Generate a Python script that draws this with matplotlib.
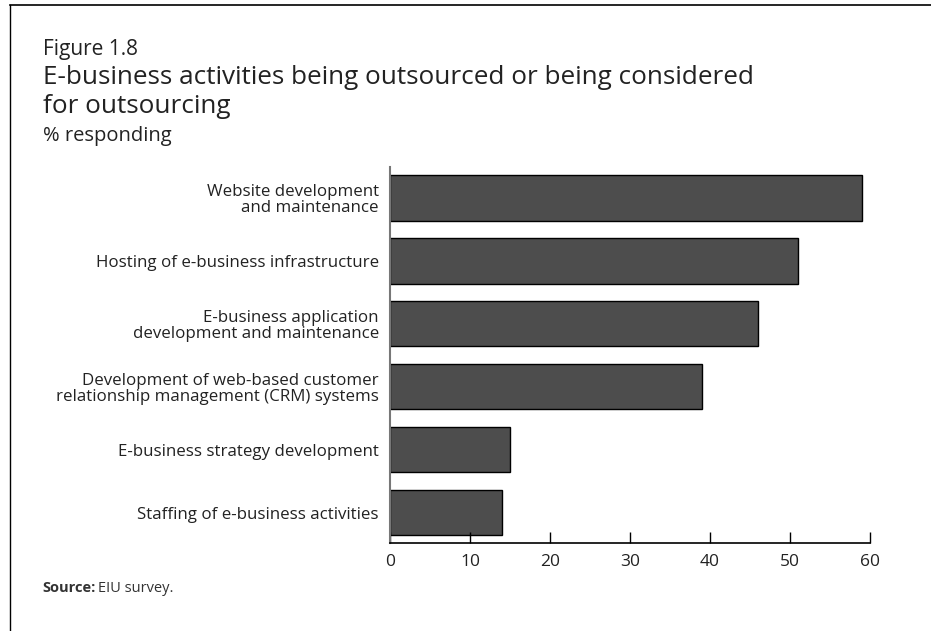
import matplotlib
matplotlib.use("Agg")
import matplotlib.pyplot as plt
from matplotlib.lines import Line2D

plt.rcParams['font.family'] = ['Open Sans', 'DejaVu Sans']

activities = [
    "Website development\nand maintenance",
    "Hosting of e-business infrastructure",
    "E-business application\ndevelopment and maintenance",
    "Development of web-based customer\nrelationship management (CRM) systems",
    "E-business strategy development",
    "Staffing of e-business activities",
]
responding = [59, 51, 46, 39, 15, 14]
xticks = [0, 10, 20, 30, 40, 50, 60]

W, H = 931, 631
fig = plt.figure(figsize=(W / 100, H / 100), dpi=100, facecolor='white')

# frame lines along the top and left edge of the page
fig.add_artist(Line2D([10 / W, 10 / W], [0, 1 - 5 / H], transform=fig.transFigure, color='black', lw=1))
fig.add_artist(Line2D([10 / W, 1], [1 - 5 / H, 1 - 5 / H], transform=fig.transFigure, color='black', lw=1.2))

ax = fig.add_axes([390 / W, 1 - 543 / H, 480 / W, 376 / H])

ypos = list(range(len(activities)))[::-1]
ax.barh(ypos, responding, height=0.72, color='#4d4d4d', edgecolor='black', linewidth=1)

ax.set_xlim(0, 60)
ax.set_ylim(-0.48, 5.49)
ax.set_xticks(xticks)
ax.set_xticklabels([str(t) for t in xticks], fontsize=12.5, color='#222222')
ax.set_yticks(ypos)
ax.set_yticklabels(activities, fontsize=12.2, color='#222222', linespacing=1.05)
ax.tick_params(axis='x', direction='in', length=8, width=1, color='black', pad=8)
ax.tick_params(axis='y', length=0, pad=8)

for side in ['top', 'right']:
    ax.spines[side].set_visible(False)
ax.spines['left'].set_color('#777777')
ax.spines['left'].set_linewidth(1.5)
ax.spines['bottom'].set_color('black')
ax.spines['bottom'].set_linewidth(1.2)

fig.text(43 / W, 1 - 55 / H, "Figure 1.8", fontsize=15, color='#222222', va='baseline')
fig.text(43 / W, 1 - 84 / H, "E-business activities being outsourced or being considered",
         fontsize=18.8, color='#222222', va='baseline')
fig.text(43 / W, 1 - 113 / H, "for outsourcing", fontsize=18.8, color='#222222', va='baseline')
fig.text(43 / W, 1 - 141 / H, "% responding", fontsize=14.5, color='#222222', va='baseline')

src = fig.text(42 / W, 1 - 592 / H, "Source:", fontsize=10.5, fontweight='bold', color='#333333', va='baseline')
fig.canvas.draw()
bb = src.get_window_extent()
fig.text((bb.x1 + 3) / W, 1 - 592 / H, "EIU survey.", fontsize=10.5, color='#333333', va='baseline')

fig.savefig("out.png", dpi=100, facecolor='white')
